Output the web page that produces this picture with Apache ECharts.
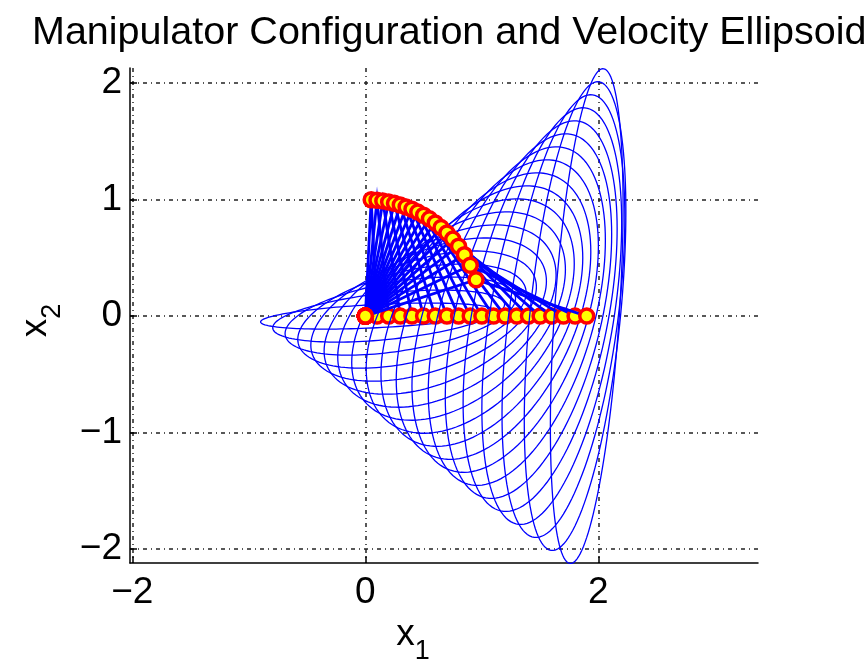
<!DOCTYPE html>
<html>
<head>
<meta charset="utf-8">
<script src="https://cdn.jsdelivr.net/npm/echarts@6/dist/echarts.min.js"></script>
<style>
  html, body { margin: 0; padding: 0; background: #fff; }
  #chart { width: 868px; height: 663px; }
</style>
</head>
<body>
<div id="chart"></div>
<script>
// end effector positions (on the x1 axis)
var endX = [0.1, 0.2, 0.3, 0.4, 0.5, 0.6, 0.7, 0.8, 0.9, 1.0, 1.1, 1.2, 1.3, 1.4, 1.5, 1.6, 1.7, 1.8, 1.9];
var endY = [0, 0, 0, 0, 0, 0, 0, 0, 0, 0, 0, 0, 0, 0, 0, 0, 0, 0, 0];
// elbow joint positions (the arc of markers)
var elbowX = [0.05, 0.10, 0.15, 0.20, 0.25, 0.30, 0.35, 0.40, 0.45, 0.50, 0.55, 0.60, 0.65, 0.70, 0.75, 0.80, 0.85, 0.90, 0.95];
var elbowY = [0.999, 0.995, 0.989, 0.980, 0.968, 0.954, 0.937, 0.917, 0.893, 0.866, 0.835, 0.800, 0.760, 0.714, 0.661, 0.600, 0.527, 0.436, 0.312];
var baseX = 0, baseY = 0;
var xTicks = [-2, 0, 2];
var yTicks = [-2, -1, 0, 1, 2];

var FONT = "'Liberation Sans', Arial, sans-serif";
var chart = echarts.init(document.getElementById('chart'));

var data = endX.map(function (x, i) {
  return [x, endY[i], elbowX[i], elbowY[i]];
});

function minus(v) {
  return String(v).replace('-', '\u2212');
}

var gridLine = { show: true, lineStyle: { color: '#222', width: 1.5, type: [4, 4, 1, 4] } };
var nameRich = {
  a: { fontFamily: FONT, fontSize: 37, color: '#000', verticalAlign: 'top' },
  b: { fontFamily: FONT, fontSize: 27, color: '#000', verticalAlign: 'bottom', padding: [22, 0, 0, 0] }
};

var option = {
  backgroundColor: '#fff',
  animation: false,
  title: {
    text: 'Manipulator Configuration and Velocity Ellipsoid',
    left: 27,
    top: 8,
    textStyle: { fontFamily: FONT, fontSize: 39.5, fontWeight: 'normal', color: '#000' }
  },
  grid: { left: 130, right: 110, top: 68, bottom: 100, outerBoundsMode: 'none' },
  xAxis: {
    type: 'value',
    min: -2.02,
    max: 3.37,
    name: '{a|x}{b|1}',
    nameLocation: 'middle',
    nameGap: 43,
    nameTextStyle: { padding: [0, 62, 0, 0], rich: nameRich },
    axisLine: { show: true, onZero: false, lineStyle: { color: '#000', width: 1.5 } },
    axisTick: { show: true, inside: true, length: 7, customValues: xTicks, lineStyle: { color: '#000', width: 1.5 } },
    axisLabel: { customValues: xTicks, fontFamily: FONT, fontSize: 37, color: '#000', margin: 11, formatter: minus },
    splitLine: gridLine
  },
  yAxis: {
    type: 'value',
    min: -2.12,
    max: 2.13,
    name: '{a|x}{b|2}',
    nameLocation: 'middle',
    nameRotate: 90,
    nameGap: 64,
    nameTextStyle: { padding: [0, 10, 0, 0], rich: nameRich },
    axisLine: { show: true, onZero: false, lineStyle: { color: '#000', width: 1.5 } },
    axisTick: { show: true, inside: true, length: 7, customValues: yTicks, lineStyle: { color: '#000', width: 1.5 } },
    axisLabel: { customValues: yTicks, fontFamily: FONT, fontSize: 37, color: '#000', margin: 8, formatter: minus },
    splitLine: gridLine
  },
  series: [
    {
      type: 'custom',
      clip: false,
      encode: { x: 0, y: 1 },
      renderItem: function (params, api) {
        var ex = api.value(0), ey = api.value(1);
        var kx = api.value(2), ky = api.value(3);
        // Jacobian columns of the two-link arm
        var a = [-ey, ex];
        var b = [-(ey - ky), ex - kx];
        var pts = [];
        for (var i = 0; i <= 140; i++) {
          var t = i / 140 * Math.PI * 2;
          var c = Math.cos(t), s = Math.sin(t);
          pts.push(api.coord([ex + a[0] * c + b[0] * s, ey + a[1] * c + b[1] * s]));
        }
        var p0 = api.coord([baseX, baseY]);
        var p1 = api.coord([kx, ky]);
        var p2 = api.coord([ex, ey]);
        var dot = function (p) {
          return {
            type: 'circle',
            shape: { cx: p[0], cy: p[1], r: 7 },
            style: { fill: '#ffff00', stroke: '#ff0000', lineWidth: 3.5 }
          };
        };
        return {
          type: 'group',
          children: [
            { type: 'polyline', shape: { points: pts }, style: { stroke: '#0000ff', fill: null, lineWidth: 1.3 } },
            { type: 'polyline', shape: { points: [p0, p1, p2] }, style: { stroke: '#0000ff', fill: null, lineWidth: 2.8 } },
            dot(p0), dot(p1), dot(p2)
          ]
        };
      },
      data: data
    }
  ]
};

chart.setOption(option);
</script>
</body>
</html>
